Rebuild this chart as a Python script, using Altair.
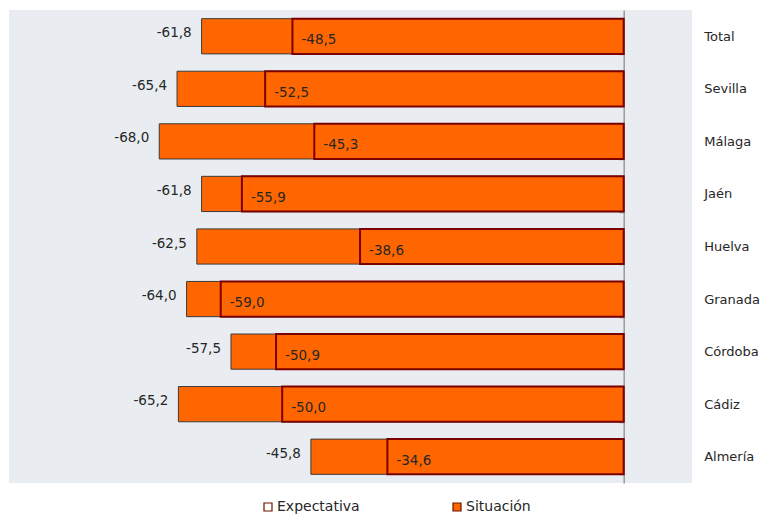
import altair as alt
import pandas as pd

categorias = ["Total", "Sevilla", "Málaga", "Jaén", "Huelva", "Granada", "Córdoba", "Cádiz", "Almería"]
expectativa = [-61.8, -65.4, -68.0, -61.8, -62.5, -64.0, -57.5, -65.2, -45.8]
situacion = [-48.5, -52.5, -45.3, -55.9, -38.6, -59.0, -50.9, -50.0, -34.6]
series = ["Expectativa", "Situación"]

fmt = lambda v: f"{v:.1f}".replace(".", ",")
df = pd.DataFrame({
    "cat": categorias,
    "exp": expectativa,
    "sit": situacion,
    "exp_lbl": [fmt(v) for v in expectativa],
    "sit_lbl": [fmt(v) for v in situacion],
})
leg_df = pd.DataFrame({"serie": series})

W, H = 683, 473
XMIN, XMAX = -90, 10
FONT = "DejaVu Sans"
ORANGE = "#FF6600"
TXT = "#262626"

xscale = alt.Scale(domain=[XMIN, XMAX], nice=False, zero=False)
yenc = alt.Y(
    "cat:N", sort=categorias,
    scale=alt.Scale(paddingInner=0.33, paddingOuter=0.165),
    axis=alt.Axis(
        title=None, orient="left", offset=-W * (0 - XMIN) / (XMAX - XMIN),
        domain=True, domainColor="#9a9a9a", domainWidth=1.5,
        ticks=True, tickBand="extent", tickSize=5, tickColor="#9a9a9a", tickWidth=1.5,
        labelAlign="left", labelPadding=-85, labelFontSize=13, labelFont=FONT,
        labelColor=TXT, grid=False,
    ),
)

base = alt.Chart(df).encode(y=yenc)

bar_exp = base.mark_bar(fill=ORANGE, stroke="#3a3a3a", strokeWidth=1).encode(
    x=alt.X("exp:Q", scale=xscale, axis=None), x2=alt.datum(0)
)
bar_sit = base.mark_bar(fill=ORANGE, stroke="#7a0000", strokeWidth=2).encode(
    x=alt.X("sit:Q", scale=xscale, axis=None), x2=alt.datum(0)
)
lbl_exp = base.mark_text(align="right", baseline="middle", dx=-10, dy=-3,
                         fontSize=13.5, font=FONT, color=TXT).encode(
    x=alt.X("exp:Q", scale=xscale, axis=None), text="exp_lbl:N"
)
lbl_sit = base.mark_text(align="left", baseline="middle", dx=9, dy=4,
                         fontSize=13.5, font=FONT, color=TXT).encode(
    x=alt.X("sit:Q", scale=xscale, axis=None), text="sit_lbl:N"
)

legend_layer = alt.Chart(leg_df).mark_square(size=0, opacity=0).encode(
    x=alt.datum(0),
    fill=alt.Fill(
        "serie:N",
        scale=alt.Scale(domain=series, range=["white", ORANGE]),
        legend=alt.Legend(
            title=None, orient="none", legendX=252, legendY=490,
            direction="horizontal", symbolType="square", symbolSize=64,
            symbolStrokeColor="#6b1500", symbolStrokeWidth=1.2, symbolOpacity=1,
            labelFontSize=14, labelFont=FONT, labelColor=TXT, labelOffset=2,
            columnPadding=90,
        ),
    ),
)

chart = alt.layer(bar_exp, bar_sit, lbl_exp, lbl_sit, legend_layer).properties(
    width=W, height=H,
    autosize=alt.AutoSizeParams(type="none"),
    padding={"left": 1, "top": 2, "right": 70, "bottom": 32},
    background="white",
).configure_view(fill="#E9EDF1", stroke=None)

chart.save("out.html", embed_options={"renderer": "svg", "actions": False})
